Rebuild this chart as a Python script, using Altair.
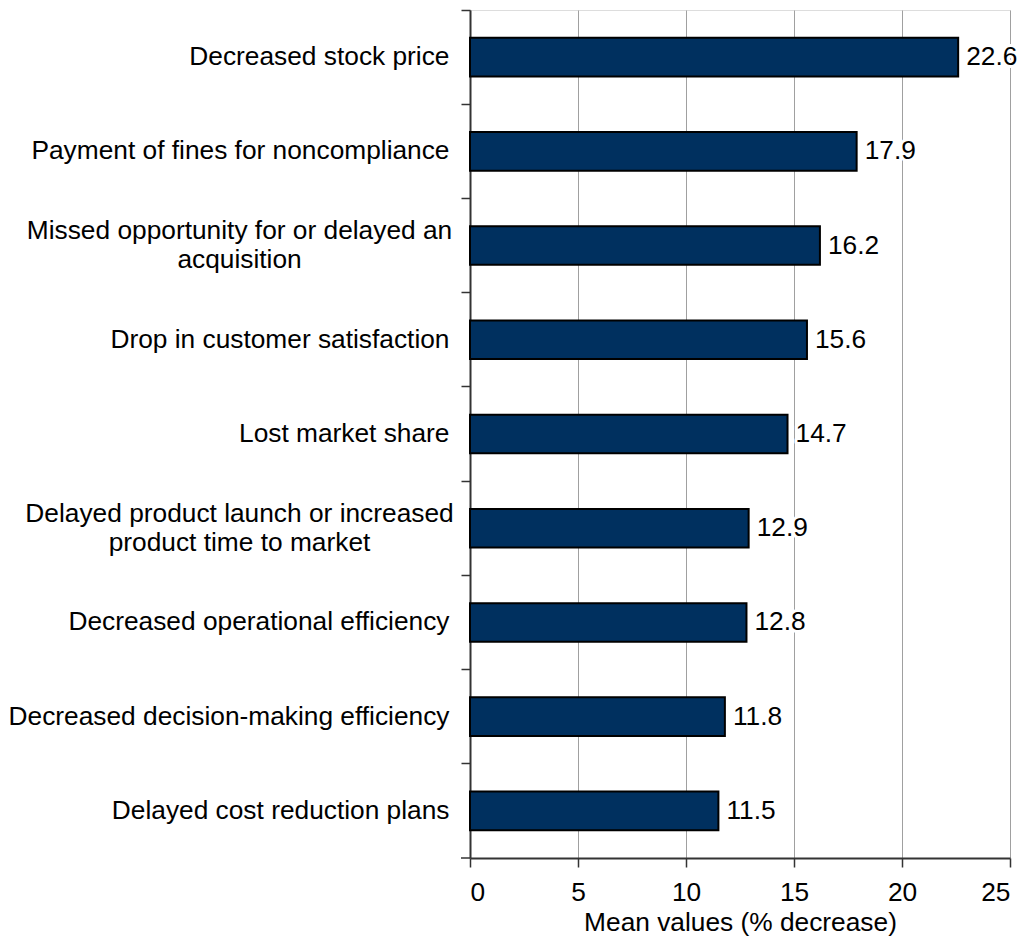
import altair as alt
import pandas as pd

categories = [
    "Decreased stock price",
    "Payment of fines for noncompliance",
    "Missed opportunity for or delayed an\nacquisition",
    "Drop in customer satisfaction",
    "Lost market share",
    "Delayed product launch or increased\nproduct time to market",
    "Decreased operational efficiency",
    "Decreased decision-making efficiency",
    "Delayed cost reduction plans",
]
values = [22.6, 17.9, 16.2, 15.6, 14.7, 12.9, 12.8, 11.8, 11.5]
x_ticks = [0, 5, 10, 15, 20, 25]

df = pd.DataFrame({"category": categories, "value": values})

FONT = "Liberation Sans"
FS = 26.3
W, H = 540, 848
MULTI = "indexof(datum.value, '\\n') >= 0"

y_enc = alt.Y(
    "category:N",
    sort=categories,
    scale=alt.Scale(paddingInner=0, paddingOuter=0),
    axis=alt.Axis(
        title=None,
        labelExpr="split(datum.label, '\\n')",
        labelFont=FONT,
        labelFontSize=FS,
        labelColor="black",
        labelLineHeight=29,
        labelPadding={"condition": {"test": MULTI, "value": 222}, "value": 12},
        labelAlign={"condition": {"test": MULTI, "value": "center"}, "value": "right"},
        labelLimit=600,
        labelOffset={"condition": {"test": MULTI, "value": -14.5}, "value": 0},
        tickSize=9,
        tickColor="#333333",
        tickWidth=1.5,
        domainColor="#333333",
        domainWidth=2,
        bandPosition=0,
        grid=False,
    ),
)

x_enc = alt.X(
    "value:Q",
    scale=alt.Scale(domain=[0, 25], nice=False),
    axis=alt.Axis(
        title="Mean values (% decrease)",
        values=x_ticks,
        labelFont=FONT,
        labelFontSize=FS,
        labelColor="black",
        labelPadding=12,
        tickSize=9,
        tickColor="#333333",
        tickWidth=1.5,
        domainColor="#333333",
        domainWidth=2,
        grid=True,
        gridColor="#a0a0a0",
        gridWidth=1,
        titleFont=FONT,
        titleFontSize=FS,
        titleFontWeight="normal",
        titleColor="black",
        titlePadding=4,
    ),
)

base = alt.Chart(df)

bars = base.mark_bar(
    color="#00305f",
    stroke="black",
    strokeWidth=2,
    height=alt.RelativeBandSize(band=0.41),
).encode(x=x_enc, y=y_enc)

halo = base.mark_text(
    align="left", baseline="middle", dx=8, font=FONT, fontSize=FS,
    stroke="white", strokeWidth=6, strokeJoin="round", color="white",
).encode(x="value:Q", y=alt.Y("category:N", sort=categories), text=alt.Text("value:Q", format=".1f"))

labels = base.mark_text(
    align="left", baseline="middle", dx=8, font=FONT, fontSize=FS, color="black",
).encode(x="value:Q", y=alt.Y("category:N", sort=categories), text=alt.Text("value:Q", format=".1f"))

bottom_tick = alt.Chart(pd.DataFrame({"k": [0]})).mark_rule(
    color="#333333", strokeWidth=1.5
).encode(x=alt.value(-9), x2=alt.value(0), y=alt.value(H))

chart = (
    alt.layer(bars, halo, labels, bottom_tick)
    .properties(
        width=W, height=H,
        autosize=alt.AutoSizeParams(type="none"),
        padding={"left": 462, "top": 2, "right": 14, "bottom": 84},
    )
    .configure_view(stroke="#999999", strokeWidth=2)
    .configure(background="white")
)

chart.save("out.html", embed_options={"renderer": "svg", "actions": False})
